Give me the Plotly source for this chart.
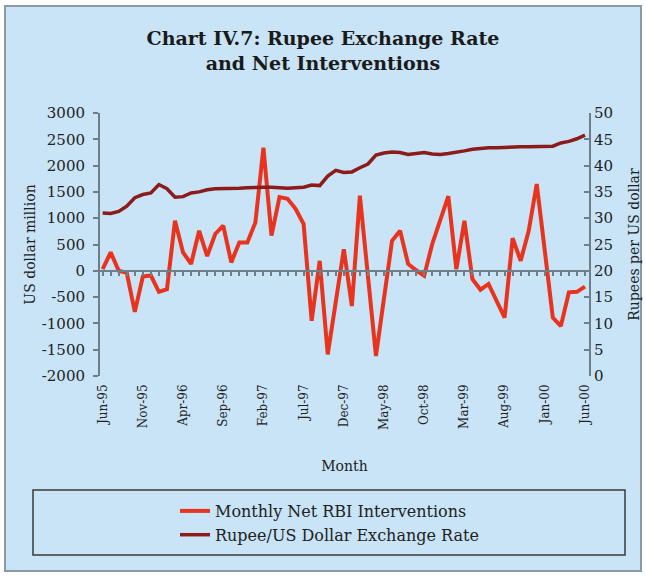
import plotly.graph_objects as go

months = [
    "Jun-95", "Jul-95", "Aug-95", "Sep-95", "Oct-95", "Nov-95", "Dec-95",
    "Jan-96", "Feb-96", "Mar-96", "Apr-96", "May-96", "Jun-96", "Jul-96", "Aug-96", "Sep-96", "Oct-96", "Nov-96", "Dec-96",
    "Jan-97", "Feb-97", "Mar-97", "Apr-97", "May-97", "Jun-97", "Jul-97", "Aug-97", "Sep-97", "Oct-97", "Nov-97", "Dec-97",
    "Jan-98", "Feb-98", "Mar-98", "Apr-98", "May-98", "Jun-98", "Jul-98", "Aug-98", "Sep-98", "Oct-98", "Nov-98", "Dec-98",
    "Jan-99", "Feb-99", "Mar-99", "Apr-99", "May-99", "Jun-99", "Jul-99", "Aug-99", "Sep-99", "Oct-99", "Nov-99", "Dec-99",
    "Jan-00", "Feb-00", "Mar-00", "Apr-00", "May-00", "Jun-00",
]

# Monthly net RBI interventions, US dollar million (left axis)
net_interventions = [
    30, 350, 0, -40, -780, -110, -90,
    -400, -350, 950, 350, 130, 760, 280, 700, 860, 160, 540,
    540, 920, 2340, 670, 1400, 1370, 1180, 890, -950, 190, -1590, -590,
    410, -670, 1430, -100, -1620, -520, 570, 760, 130, 10, -95, 510,
    960, 1420, 30, 950, -160, -360, -250, -570, -890, 620, 190, 760,
    1650, 380, -890, -1050, -410, -400, -300,
]

# Rupee / US dollar exchange rate (right axis)
exchange_rate = [
    31.0, 30.9, 31.3, 32.3, 33.9, 34.5, 34.8,
    36.4, 35.6, 34.0, 34.1, 34.8, 35.0, 35.4, 35.6, 35.6, 35.7, 35.7,
    35.8, 35.9, 35.9, 35.9, 35.8, 35.7, 35.8, 35.9, 36.3, 36.2, 38.0, 39.1,
    38.7, 38.8, 39.6, 40.3, 42.0, 42.4, 42.6, 42.5, 42.1, 42.3, 42.5, 42.2,
    42.1, 42.3, 42.5, 42.8, 43.1, 43.3, 43.4, 43.4, 43.5, 43.5, 43.6, 43.6,
    43.6, 43.6, 43.7, 44.3, 44.6, 45.1, 45.8,
]

x_tick_labels = months[::5]
left_ticks = [-2000, -1500, -1000, -500, 0, 500, 1000, 1500, 2000, 2500, 3000]
right_ticks = [0, 5, 10, 15, 20, 25, 30, 35, 40, 45, 50]

SERIF = "DejaVu Serif"
AXIS_GREY = "#6f7f89"
BG_BLUE = "#c8e4f6"
TEXT = "#222222"

fig = go.Figure()
fig.add_trace(go.Scatter(
    x=months, y=exchange_rate, name="Rupee/US Dollar Exchange Rate",
    mode="lines", line=dict(color="#8c1b1b", width=3.5), yaxis="y2",
))
fig.add_trace(go.Scatter(
    x=months, y=net_interventions, name="Monthly Net RBI Interventions",
    mode="lines", line=dict(color="#e8341f", width=4),
))
# empty trace so that the zero-line axis (xaxis2) is drawn
fig.add_trace(go.Scatter(x=[], y=[], xaxis="x2", yaxis="y", showlegend=False,
                         hoverinfo="skip"))

# pixel geometry helpers (plot area: x 100..589, y 113..376)
L, R, T, B = 100, 589, 113, 376
PW, PH = R - L, B - T


def px_x(p):
    return (p - L) / PW


def px_y(p):
    return (B - p) / PH


fig.update_layout(
    width=646, height=576,
    margin=dict(l=L, r=646 - R, t=T, b=576 - B, pad=0, autoexpand=False),
    paper_bgcolor="white",
    plot_bgcolor="rgba(0,0,0,0)",
    font=dict(family=SERIF, color=TEXT),
    title=dict(
        text="Chart IV.7: Rupee Exchange Rate<br>and Net Interventions",
        font=dict(family=SERIF, size=19, color="#1a1a1a", weight="bold"),
        x=0.5, xref="container", xanchor="center",
        y=1 - 45 / 576, yref="container", yanchor="top",
    ),
    showlegend=True,
    legend=dict(
        x=px_x(175), y=px_y(494), xanchor="left", yanchor="top",
        bgcolor="rgba(0,0,0,0)", borderwidth=0,
        font=dict(family=SERIF, size=16, color=TEXT),
        traceorder="reversed", itemwidth=30,
    ),
    xaxis=dict(
        type="category", categoryorder="array", categoryarray=months,
        range=[-0.33, 60.5], automargin=False,
        tickvals=x_tick_labels, ticktext=x_tick_labels,
        tickangle=-90, tickfont=dict(family=SERIF, size=12, color=TEXT),
        ticklabelstandoff=5,
        showline=False, ticks="", showgrid=False, zeroline=False,
        title=dict(text="Month", font=dict(family=SERIF, size=14, color=TEXT), standoff=32),
    ),
    xaxis2=dict(
        overlaying="x", anchor="free", position=0.4, type="linear",
        range=[-0.33, 60.5], tick0=0, dtick=1, automargin=False,
        showline=True, linecolor=AXIS_GREY, linewidth=2,
        ticks="outside", ticklen=4, tickwidth=1.5, tickcolor=AXIS_GREY,
        showticklabels=False, showgrid=False, zeroline=False,
    ),
    yaxis=dict(
        range=[-2000, 3000], automargin=False,
        tickvals=left_ticks, ticktext=[str(v) for v in left_ticks],
        tickfont=dict(family=SERIF, size=15, color=TEXT),
        ticklabelstandoff=5,
        showline=True, linecolor=AXIS_GREY, linewidth=2,
        ticks="outside", ticklen=5, tickwidth=2, tickcolor=AXIS_GREY,
        showgrid=False, zeroline=False,
        title=dict(text="US dollar million", font=dict(family=SERIF, size=14, color=TEXT), standoff=3),
    ),
    yaxis2=dict(
        overlaying="y", side="right", anchor="x",
        range=[0, 50], automargin=False,
        tickvals=right_ticks, ticktext=[str(v) for v in right_ticks],
        tickfont=dict(family=SERIF, size=15, color=TEXT),
        showline=True, linecolor=AXIS_GREY, linewidth=2,
        ticks="inside", ticklen=5, tickwidth=2, tickcolor=AXIS_GREY,
        showgrid=False, zeroline=False,
        title=dict(text="Rupees per US dollar", font=dict(family=SERIF, size=14, color=TEXT), standoff=17),
    ),
    shapes=[
        dict(type="rect", xref="paper", yref="paper",
             x0=px_x(5), x1=px_x(641), y0=px_y(571), y1=px_y(6),
             fillcolor=BG_BLUE, line=dict(color="#8c99a2", width=2), layer="below"),
        dict(type="rect", xref="paper", yref="paper",
             x0=px_x(33), x1=px_x(625), y0=px_y(555), y1=px_y(490),
             fillcolor="rgba(0,0,0,0)", line=dict(color="#3a3a3a", width=1.5), layer="below"),
    ],
)

fig.write_html("out.html", config={"displayModeBar": False},
               post_script="document.body.style.margin='0px';")
